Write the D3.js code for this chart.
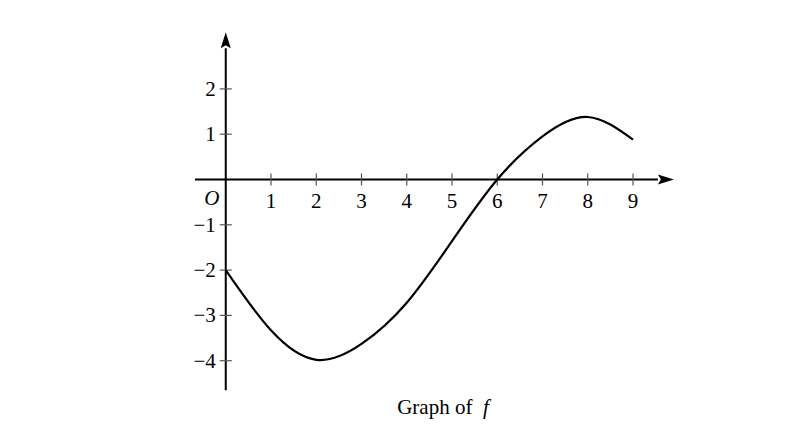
<!DOCTYPE html>
<html lang="en">
  <head>
    <meta charset="UTF-8" />
    <title>Graph of f</title>
    <script src="https://d3js.org/d3.v7.min.js"></script>
    <style>
      body {
        margin: 0;
        background: #fff;
      }
      text {
        font-family: "Liberation Serif", "Times New Roman", serif;
        fill: #000;
      }
    </style>
  </head>
  <body>
    <script>
      var xs = [0, 1, 2, 3, 4, 5, 6, 7, 8, 9];
      var fs = [-2, -3.33, -3.98, -3.63, -2.72, -1.36, 0, 0.95, 1.38, 0.88];
      var xTicks = [1, 2, 3, 4, 5, 6, 7, 8, 9];
      var yTicks = [2, 1, -1, -2, -3, -4];

      var width = 798,
        height = 441;

      var svg = d3
        .select("body")
        .append("svg")
        .attr("width", width)
        .attr("height", height);

      var x = d3.scaleLinear().domain([0, 9]).range([225.75, 633]);
      var y = d3.scaleLinear().domain([0, -4]).range([179.5, 360.7]);

      // axes
      svg
        .append("line")
        .attr("x1", x(-0.68))
        .attr("x2", x(9.55))
        .attr("y1", y(0))
        .attr("y2", y(0))
        .attr("stroke", "#000")
        .attr("stroke-width", 2);
      svg
        .append("line")
        .attr("x1", x(0))
        .attr("x2", x(0))
        .attr("y1", y(-4.65))
        .attr("y2", y(2.9))
        .attr("stroke", "#000")
        .attr("stroke-width", 2);

      // arrow heads
      var ax = x(9.55),
        ay = y(0);
      svg
        .append("path")
        .attr("d", "M" + (ax + 16) + "," + ay + "L" + ax + "," + (ay - 5) + "L" + (ax + 3) + "," + ay + "L" + ax + "," + (ay + 5) + "Z")
        .attr("fill", "#000");
      var bx = x(0),
        by = y(2.9);
      svg
        .append("path")
        .attr("d", "M" + bx + "," + (by - 16) + "L" + (bx - 5) + "," + by + "L" + bx + "," + (by - 3) + "L" + (bx + 5) + "," + by + "Z")
        .attr("fill", "#000");

      // ticks
      svg
        .selectAll(".xtick")
        .data(xTicks)
        .enter()
        .append("line")
        .attr("x1", function (d) { return x(d); })
        .attr("x2", function (d) { return x(d); })
        .attr("y1", y(0) - 6)
        .attr("y2", y(0) + 6)
        .attr("stroke", "#555")
        .attr("stroke-width", 1.2);
      svg
        .selectAll(".ytick")
        .data(yTicks)
        .enter()
        .append("line")
        .attr("x1", x(0) - 6)
        .attr("x2", x(0) + 6)
        .attr("y1", function (d) { return y(d); })
        .attr("y2", function (d) { return y(d); })
        .attr("stroke", "#555")
        .attr("stroke-width", 1.2);

      // tick labels
      svg
        .selectAll(".xlab")
        .data(xTicks)
        .enter()
        .append("text")
        .attr("x", function (d) { return x(d); })
        .attr("y", y(0) + 28)
        .attr("text-anchor", "middle")
        .style("font-size", "21px")
        .text(function (d) { return d; });
      svg
        .selectAll(".ylab")
        .data(yTicks)
        .enter()
        .append("text")
        .attr("x", x(0) - 10)
        .attr("y", function (d) { return y(d) + 7; })
        .attr("text-anchor", "end")
        .style("font-size", "21px")
        .text(function (d) { return d < 0 ? "\u2212" + -d : d; });

      svg
        .append("text")
        .attr("x", x(0) - 14)
        .attr("y", y(0) + 25)
        .attr("text-anchor", "middle")
        .style("font-size", "21px")
        .style("font-style", "italic")
        .text("O");

      // the curve
      var line = d3
        .line()
        .x(function (d, i) { return x(xs[i]); })
        .y(function (d) { return y(d); })
        .curve(d3.curveNatural);
      svg
        .append("path")
        .datum(fs)
        .attr("d", line)
        .attr("fill", "none")
        .attr("stroke", "#000")
        .attr("stroke-width", 2.2);

      // caption
      var cap = svg
        .append("text")
        .attr("x", 443)
        .attr("y", 414)
        .attr("text-anchor", "middle")
        .style("font-size", "21px");
      cap.append("tspan").text("Graph of\u00a0\u00a0");
      cap.append("tspan").style("font-style", "italic").text("f");
    </script>
  </body>
</html>
